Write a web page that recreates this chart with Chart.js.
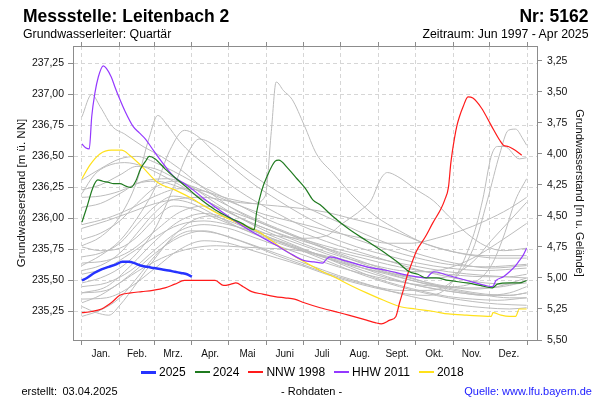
<!DOCTYPE html>
<html lang="de">
<head>
<meta charset="utf-8">
<title>Messstelle: Leitenbach 2</title>
<script src="https://cdn.jsdelivr.net/npm/chart.js@4.4.1/dist/chart.umd.min.js"></script>
<style>
  body { margin: 0; background: #fff; font-family: "Liberation Sans", Arial, sans-serif; color: #000; }
  .wrap { position: relative; width: 600px; height: 400px; overflow: hidden; }
  #gwChart { position: absolute; left: 0; top: 0; }
  .txt { position: absolute; white-space: nowrap; line-height: 1; }
  .title { font-weight: bold; font-size: 17.5px; top: 7.5px; }
  .sub { font-size: 12.3px; top: 28.1px; }
  .foot { font-size: 11px; top: 385.6px; }
  .legend { position: absolute; left: 141px; top: 366px; display: flex; align-items: center; font-size: 12px; line-height: 1; }
  .legend-item { display: flex; align-items: center; margin-right: 9px; }
  .legend-line { display: inline-block; width: 15px; margin-right: 3px; }
</style>
</head>
<body>
<div class="wrap">
  <canvas id="gwChart" width="600" height="400"></canvas>
  <div class="txt title" style="left:23px">Messstelle: Leitenbach 2</div>
  <div class="txt title" style="right:11.5px">Nr: 5162</div>
  <div class="txt sub" style="left:23px">Grundwasserleiter: Quartär</div>
  <div class="txt sub" style="right:11.5px">Zeitraum: Jun 1997 - Apr 2025</div>
  <div class="legend" id="chartLegend"></div>
  <div class="txt foot" style="left:21.5px">erstellt:</div>
  <div class="txt foot" style="left:62.5px">03.04.2025</div>
  <div class="txt foot" style="left:281px">- Rohdaten -</div>
  <div class="txt foot" style="right:8px;color:#1a1aff">Quelle: www.lfu.bayern.de</div>
</div>
<script>
// x = day of year, y = Grundwasserstand in m ü. NN
const monthStarts = [0, 31, 59, 90, 120, 151, 181, 212, 243, 273, 304, 334, 365];
const monthLabels = ["Jan.", "Feb.", "Mrz.", "Apr.", "Mai", "Juni", "Juli", "Aug.", "Sept.", "Okt.", "Nov.", "Dez."];
const leftTicks = [235.25, 235.5, 235.75, 236.0, 236.25, 236.5, 236.75, 237.0, 237.25];
const rightTicks = [3.25, 3.5, 3.75, 4.0, 4.25, 4.5, 4.75, 5.0, 5.25, 5.5];
const groundLevel = 240.52;
const yMin = 235.02;
const yMax = 237.39;

const days2025 = [0, 4, 10, 16, 22, 28, 33, 38, 43, 48, 53, 59, 65, 71, 76, 81, 86, 90];
const level2025 = [235.50, 235.52, 235.56, 235.59, 235.61, 235.63, 235.65, 235.65, 235.64, 235.62, 235.61, 235.60, 235.59, 235.58, 235.57, 235.56, 235.55, 235.53];

const days2024 = [0, 4, 9, 13, 17, 22, 26, 31, 36, 40, 44, 48, 52, 55, 60, 68, 76, 87, 95, 109, 120, 131, 141, 143, 147, 152, 158, 161, 169, 176, 183, 189, 195, 205, 219, 233, 247, 258, 268, 275, 282, 290, 300, 315, 326, 336, 340, 350, 358, 364];
const level2024 = [235.97, 236.09, 236.25, 236.31, 236.30, 236.29, 236.28, 236.28, 236.26, 236.25, 236.30, 236.40, 236.46, 236.50, 236.48, 236.40, 236.33, 236.24, 236.17, 236.07, 236.01, 235.96, 235.91, 236.05, 236.22, 236.35, 236.46, 236.47, 236.40, 236.32, 236.24, 236.15, 236.11, 236.02, 235.91, 235.82, 235.73, 235.65, 235.57, 235.55, 235.52, 235.52, 235.50, 235.48, 235.46, 235.44, 235.47, 235.48, 235.48, 235.50];

const days1998 = [0, 8, 16, 24, 31, 40, 49, 58, 68, 76, 84, 95, 109, 116, 122, 126, 132, 139, 148, 158, 166, 174, 182, 195, 211, 222, 233, 240, 245, 252, 257, 260, 263, 266, 270, 274, 281, 287, 294, 297, 300, 302, 305, 307, 309, 312, 316, 320, 327, 335, 342, 345, 349, 353, 360];
const level1998 = [235.24, 235.25, 235.27, 235.32, 235.38, 235.40, 235.41, 235.42, 235.44, 235.47, 235.50, 235.50, 235.50, 235.46, 235.47, 235.48, 235.45, 235.41, 235.39, 235.37, 235.36, 235.35, 235.32, 235.28, 235.24, 235.21, 235.18, 235.16, 235.15, 235.18, 235.21, 235.32, 235.42, 235.53, 235.64, 235.74, 235.85, 235.96, 236.08, 236.15, 236.25, 236.45, 236.65, 236.75, 236.82, 236.90, 236.98, 236.97, 236.89, 236.75, 236.63, 236.59, 236.58, 236.56, 236.51];

const days2011 = [0, 3, 6, 8, 10.6, 13.4, 17.4, 20, 24, 27, 31, 35, 42, 47, 52, 57, 62, 69, 76, 84, 91, 101, 115, 130, 145, 158, 170, 182, 190, 197, 200, 203, 215, 233, 250, 268, 282, 285, 288, 300, 315, 330, 336, 339, 345, 350, 355, 358, 361, 364];
const level2011 = [236.60, 236.57, 236.56, 236.82, 237.01, 237.14, 237.23, 237.21, 237.14, 237.06, 236.96, 236.87, 236.74, 236.69, 236.64, 236.57, 236.50, 236.41, 236.33, 236.28, 236.23, 236.15, 236.05, 235.95, 235.86, 235.79, 235.72, 235.66, 235.65, 235.64, 235.67, 235.69, 235.66, 235.61, 235.58, 235.54, 235.52, 235.55, 235.57, 235.54, 235.50, 235.46, 235.45, 235.50, 235.53, 235.57, 235.62, 235.66, 235.70, 235.76];

const days2018 = [0, 6.5, 14.7, 24, 32.5, 39, 49, 62, 76, 90, 100, 115, 131, 145, 158, 170, 182, 195, 206, 220, 233, 247, 260, 273, 288, 300, 315, 335, 336.5, 343, 350, 355, 358, 364];
const level2018 = [236.32, 236.43, 236.52, 236.55, 236.55, 236.51, 236.42, 236.29, 236.23, 236.16, 236.10, 236.02, 235.95, 235.89, 235.80, 235.72, 235.65, 235.58, 235.53, 235.46, 235.40, 235.34, 235.29, 235.27, 235.25, 235.23, 235.22, 235.21, 235.24, 235.22, 235.21, 235.21, 235.27, 235.27];

// other years 1997 - 2024, [day, m ü. NN]
const grayYears = [
  [[0,236.82],[8,237.00],[15,236.90],[25,236.74],[35,236.68],[50,236.58],[65,236.50],[80,236.40],[95,236.28],[110,236.17],[125,236.07],[145,235.97],[165,235.89],[185,235.82],[210,235.75],[240,235.68],[270,235.62],[300,235.57],[330,235.54],[364,235.52]],
  [[0,235.78],[15,235.85],[30,236.00],[45,236.30],[55,236.65],[62,236.83],[70,236.75],[80,236.62],[90,236.52],[105,236.40],[120,236.28],[140,236.15],[160,236.04],[180,235.94],[200,235.86],[225,235.77],[250,235.70],[275,235.64],[300,235.60],[330,235.58],[364,235.60]],
  [[0,235.62],[15,235.70],[31,235.82],[45,236.00],[60,236.25],[72,236.55],[84,236.71],[95,236.66],[110,236.52],[125,236.40],[140,236.28],[160,236.15],[180,236.03],[200,235.93],[225,235.83],[250,235.75],[275,235.68],[300,235.63],[330,235.61],[364,235.63]],
  [[0,235.48],[15,235.52],[31,235.60],[45,235.72],[60,235.92],[75,236.25],[88,236.55],[96,236.64],[110,236.58],[130,236.42],[150,236.28],[170,236.16],[190,236.06],[210,235.97],[230,235.88],[255,235.78],[280,235.70],[305,235.64],[335,235.60],[364,235.62]],
  [[0,235.92],[20,235.98],[40,236.05],[60,236.12],[80,236.16],[100,236.17],[120,236.14],[140,236.12],[150,236.18],[155,236.70],[159,237.10],[165,237.03],[172,236.96],[182,236.75],[192,236.52],[206,236.36],[220,236.20],[240,236.02],[260,235.90],[280,235.80],[300,235.74],[330,235.70],[364,235.70]],
  [[0,235.55],[20,235.60],[40,235.72],[60,235.85],[80,235.95],[100,235.98],[120,235.95],[140,235.90],[160,235.86],[180,235.84],[200,235.86],[212,235.95],[230,236.08],[237,236.15],[244,236.31],[250,236.37],[258,236.34],[274,236.23],[288,236.14],[300,236.02],[315,235.88],[330,235.78],[345,235.74],[364,235.76]],
  [[0,235.40],[20,235.42],[40,235.55],[60,235.72],[80,235.85],[100,235.90],[120,235.85],[140,235.78],[160,235.70],[180,235.63],[200,235.56],[220,235.50],[240,235.45],[260,235.42],[280,235.42],[300,235.47],[320,235.75],[332,236.15],[342,236.52],[349,236.71],[355,236.72],[361,236.64],[364,236.59]],
  [[0,235.35],[20,235.36],[40,235.45],[60,235.60],[80,235.75],[100,235.82],[120,235.80],[140,235.74],[160,235.68],[180,235.62],[200,235.55],[220,235.49],[240,235.44],[260,235.40],[280,235.38],[300,235.45],[320,235.85],[328,236.15],[335,236.50],[340,236.58],[346,236.58],[358,236.48],[364,236.49]],
  [[0,235.45],[20,235.48],[40,235.58],[60,235.75],[80,235.90],[100,235.95],[120,235.92],[140,235.85],[160,235.78],[180,235.71],[200,235.64],[220,235.58],[240,235.53],[260,235.49],[280,235.46],[300,235.45],[320,235.48],[335,235.62],[345,235.85],[355,236.15],[364,236.32]],
  [[0,235.58],[15,235.62],[31,235.72],[45,235.88],[60,236.05],[75,236.15],[90,236.12],[110,236.02],[130,235.92],[150,235.84],[170,235.77],[190,235.71],[210,235.65],[230,235.60],[250,235.56],[270,235.53],[290,235.52],[305,235.55],[320,235.65],[335,235.82],[350,235.98],[364,236.13]],
  [[0,236.09],[15,236.12],[31,236.20],[45,236.28],[60,236.30],[80,236.25],[100,236.15],[120,236.05],[140,235.96],[160,235.88],[180,235.80],[200,235.73],[220,235.67],[240,235.62],[260,235.58],[280,235.57],[300,235.60],[320,235.68],[340,235.80],[364,235.96]],
  [[0,236.31],[15,236.40],[31,236.48],[45,236.50],[60,236.45],[75,236.38],[90,236.30],[110,236.20],[130,236.10],[150,236.00],[170,235.92],[190,235.85],[210,235.78],[230,235.72],[250,235.66],[270,235.60],[290,235.55],[310,235.51],[330,235.48],[350,235.47],[364,235.48]],
  [[0,236.23],[15,236.27],[31,236.35],[45,236.42],[60,236.40],[75,236.33],[90,236.25],[110,236.15],[130,236.05],[150,235.96],[170,235.88],[190,235.80],[210,235.72],[230,235.65],[250,235.58],[270,235.52],[290,235.46],[310,235.42],[330,235.39],[350,235.38],[364,235.40]],
  [[0,236.17],[15,236.18],[31,236.22],[50,236.30],[70,236.32],[90,236.26],[110,236.18],[130,236.10],[150,236.03],[170,235.98],[190,235.93],[210,235.88],[230,235.84],[250,235.80],[270,235.80],[290,235.84],[310,235.90],[330,235.98],[350,236.08],[364,236.17]],
  [[0,235.83],[15,235.88],[31,235.98],[45,236.12],[60,236.25],[75,236.30],[90,236.25],[110,236.12],[130,236.00],[150,235.90],[170,235.82],[190,235.75],[210,235.68],[230,235.62],[250,235.56],[270,235.50],[290,235.45],[310,235.41],[330,235.38],[350,235.36],[364,235.36]],
  [[0,235.69],[15,235.72],[31,235.80],[45,235.95],[60,236.10],[75,236.18],[90,236.15],[110,236.05],[130,235.95],[150,235.86],[170,235.79],[190,235.72],[210,235.65],[230,235.58],[250,235.52],[270,235.47],[290,235.43],[310,235.40],[330,235.38],[350,235.40],[364,235.45]],
  [[0,235.29],[12,235.24],[22,235.22],[31,235.30],[45,235.48],[60,235.68],[75,235.86],[90,235.98],[105,236.02],[120,235.98],[140,235.90],[160,235.82],[180,235.74],[200,235.66],[220,235.58],[240,235.51],[260,235.45],[280,235.40],[300,235.36],[320,235.33],[340,235.31],[364,235.30]],
  [[0,235.21],[15,235.26],[31,235.36],[45,235.52],[60,235.70],[75,235.84],[90,235.90],[110,235.88],[130,235.82],[150,235.75],[170,235.68],[190,235.61],[210,235.54],[230,235.48],[250,235.42],[270,235.37],[290,235.33],[310,235.30],[330,235.28],[350,235.27],[364,235.28]],
  [[0,235.32],[15,235.38],[31,235.48],[50,235.60],[70,235.70],[90,235.76],[110,235.78],[130,235.77],[150,235.76],[170,235.75],[190,235.72],[210,235.67],[230,235.60],[250,235.53],[270,235.47],[290,235.43],[310,235.40],[330,235.38],[350,235.38],[364,235.40]],
  [[0,235.77],[15,235.74],[31,235.76],[45,235.85],[60,236.00],[75,236.10],[90,236.08],[110,236.00],[130,235.92],[150,235.85],[170,235.78],[190,235.72],[210,235.66],[230,235.60],[250,235.55],[270,235.50],[290,235.46],[310,235.44],[330,235.44],[350,235.46],[364,235.50]],
  [[0,236.20],[10,236.35],[20,236.42],[35,236.45],[50,236.42],[65,236.35],[80,236.27],[95,236.18],[110,236.10],[130,236.00],[150,235.92],[170,235.85],[190,235.79],[210,235.73],[230,235.68],[250,235.63],[270,235.59],[290,235.56],[310,235.54],[330,235.53],[350,235.53],[364,235.55]],
  [[0,235.95],[20,236.00],[40,236.08],[60,236.18],[80,236.24],[100,236.22],[120,236.16],[140,236.12],[160,236.10],[180,236.08],[200,236.05],[220,236.00],[240,235.95],[260,235.88],[280,235.80],[300,235.74],[320,235.70],[340,235.68],[364,235.68]],
  [[0,235.40],[20,235.45],[40,235.62],[60,235.82],[80,235.98],[100,236.04],[120,236.00],[140,235.92],[160,235.84],[180,235.76],[200,235.68],[220,235.60],[240,235.52],[260,235.46],[280,235.41],[300,235.37],[320,235.35],[340,235.34],[364,235.36]],
  [[0,235.64],[20,235.66],[40,235.74],[60,235.90],[80,236.05],[100,236.10],[120,236.06],[140,235.99],[160,235.91],[180,235.83],[200,235.75],[220,235.67],[240,235.60],[260,235.54],[280,235.49],[300,235.45],[320,235.43],[340,235.45],[364,235.52]]
];

const fontFamily = '"Liberation Sans", Arial, sans-serif';
Chart.defaults.font.family = fontFamily;

function toPoints(days, values) {
  return days.map((d, i) => ({ x: d, y: values[i] }));
}

function fmt(v) {
  return v.toFixed(2).replace(".", ",");
}

// month boundaries get grid lines, month middles get the labels
const monthMids = monthStarts.slice(0, 12).map((s, i) => (s + monthStarts[i + 1]) / 2);
const xTickValues = monthStarts.concat(monthMids).sort((a, b) => a - b);
const isStart = (ctx) => ctx.tick && monthStarts.includes(ctx.tick.value);

const highlighted = [
  { label: "2025", color: "#2633ff", width: 2.5, days: days2025, values: level2025 },
  { label: "2024", color: "#1f7a1f", width: 1.2, days: days2024, values: level2024 },
  { label: "NNW 1998", color: "#ff1a1a", width: 1.2, days: days1998, values: level1998 },
  { label: "HHW 2011", color: "#9438ff", width: 1.2, days: days2011, values: level2011 },
  { label: "2018", color: "#ffe11a", width: 1.2, days: days2018, values: level2018 }
];

const datasets = highlighted.map((s) => ({
  label: s.label,
  data: toPoints(s.days, s.values),
  borderColor: s.color,
  borderWidth: s.width,
  pointRadius: 0,
  cubicInterpolationMode: "monotone",
  fill: false
}));

grayYears.forEach((line, i) => {
  datasets.push({
    label: "Jahr " + i,
    data: line.map((p) => ({ x: p[0], y: p[1] })),
    borderColor: "#bcbcbc",
    borderWidth: 1,
    pointRadius: 0,
    cubicInterpolationMode: "monotone",
    fill: false
  });
});

// frame around the plot area
const framePlugin = {
  id: "frame",
  afterDraw(chart) {
    const { ctx, chartArea: a } = chart;
    ctx.save();
    ctx.strokeStyle = "#8c8c8c";
    ctx.lineWidth = 1;
    ctx.strokeRect(a.left - 0.5, a.top + 0.5, a.right - a.left + 1, a.bottom - a.top);
    ctx.restore();
  }
};

const ctx = document.getElementById("gwChart").getContext("2d");
const gwChart = new Chart(ctx, {
  type: "line",
  data: { datasets: datasets },
  plugins: [framePlugin],
  options: {
    responsive: false,
    animation: false,
    layout: { padding: 0 },
    plugins: {
      legend: { display: false },
      tooltip: { enabled: false }
    },
    scales: {
      x: {
        type: "linear",
        position: "bottom",
        min: -6.5,
        max: 372.5,
        afterBuildTicks: (s) => { s.ticks = xTickValues.map((v) => ({ value: v })); },
        afterFit: (s) => { s.height = 60; },
        grid: {
          color: (c) => (isStart(c) ? "#d6d6d6" : "rgba(0,0,0,0)"),
          tickColor: (c) => (isStart(c) ? "#8c8c8c" : "rgba(0,0,0,0)"),
          tickLength: 5,
          tickBorderDash: []
        },
        border: { display: false, dash: [4, 3] },
        ticks: {
          autoSkip: false,
          maxRotation: 0,
          padding: 3,
          color: "#111",
          font: { size: 10 },
          callback: (v) => {
            const i = monthMids.indexOf(v);
            return i >= 0 ? monthLabels[i] : "";
          }
        }
      },
      xTop: {
        type: "linear",
        position: "top",
        min: -6.5,
        max: 372.5,
        afterBuildTicks: (s) => { s.ticks = monthStarts.map((v) => ({ value: v })); },
        afterFit: (s) => { s.height = 46; },
        grid: { drawOnChartArea: false, tickLength: 4, color: "#8c8c8c" },
        border: { display: false },
        ticks: { display: false }
      },
      y: {
        position: "left",
        min: yMin,
        max: yMax,
        afterBuildTicks: (s) => { s.ticks = leftTicks.map((v) => ({ value: v })); },
        afterFit: (s) => { s.width = 74; },
        grid: { color: "#d6d6d6", tickColor: "#8c8c8c", tickLength: 6, tickBorderDash: [] },
        border: { display: false, dash: [4, 3] },
        ticks: { padding: 4, color: "#111", font: { size: 10.5 }, callback: (v) => fmt(v) },
        title: {
          display: true,
          text: "Grundwasserstand [m ü. NN]",
          color: "#111",
          font: { size: 11.5 },
          padding: { top: 15, bottom: 0 }
        }
      },
      yRight: {
        position: "right",
        reverse: true,
        min: groundLevel - yMax,
        max: groundLevel - yMin,
        afterBuildTicks: (s) => { s.ticks = rightTicks.map((v) => ({ value: v })); },
        afterFit: (s) => { s.width = 63; },
        grid: { drawOnChartArea: false, tickColor: "#8c8c8c", tickLength: 5 },
        border: { display: false },
        ticks: { padding: 5, color: "#111", font: { size: 10.5 }, callback: (v) => fmt(v) },
        title: {
          display: true,
          text: "Grundwasserstand [m u. Gelände]",
          color: "#111",
          font: { size: 11 },
          padding: { top: 14, bottom: 0 }
        }
      }
    }
  }
});

// Custom legend
const legendContainer = document.getElementById("chartLegend");
highlighted.forEach((item) => {
  const legendItem = document.createElement("div");
  legendItem.className = "legend-item";

  const line = document.createElement("span");
  line.className = "legend-line";
  line.style.borderTop = (item.width > 2 ? 3 : 2) + "px solid " + item.color;

  const text = document.createElement("span");
  text.textContent = item.label;

  legendItem.appendChild(line);
  legendItem.appendChild(text);
  legendContainer.appendChild(legendItem);
});
</script>
</body>
</html>
